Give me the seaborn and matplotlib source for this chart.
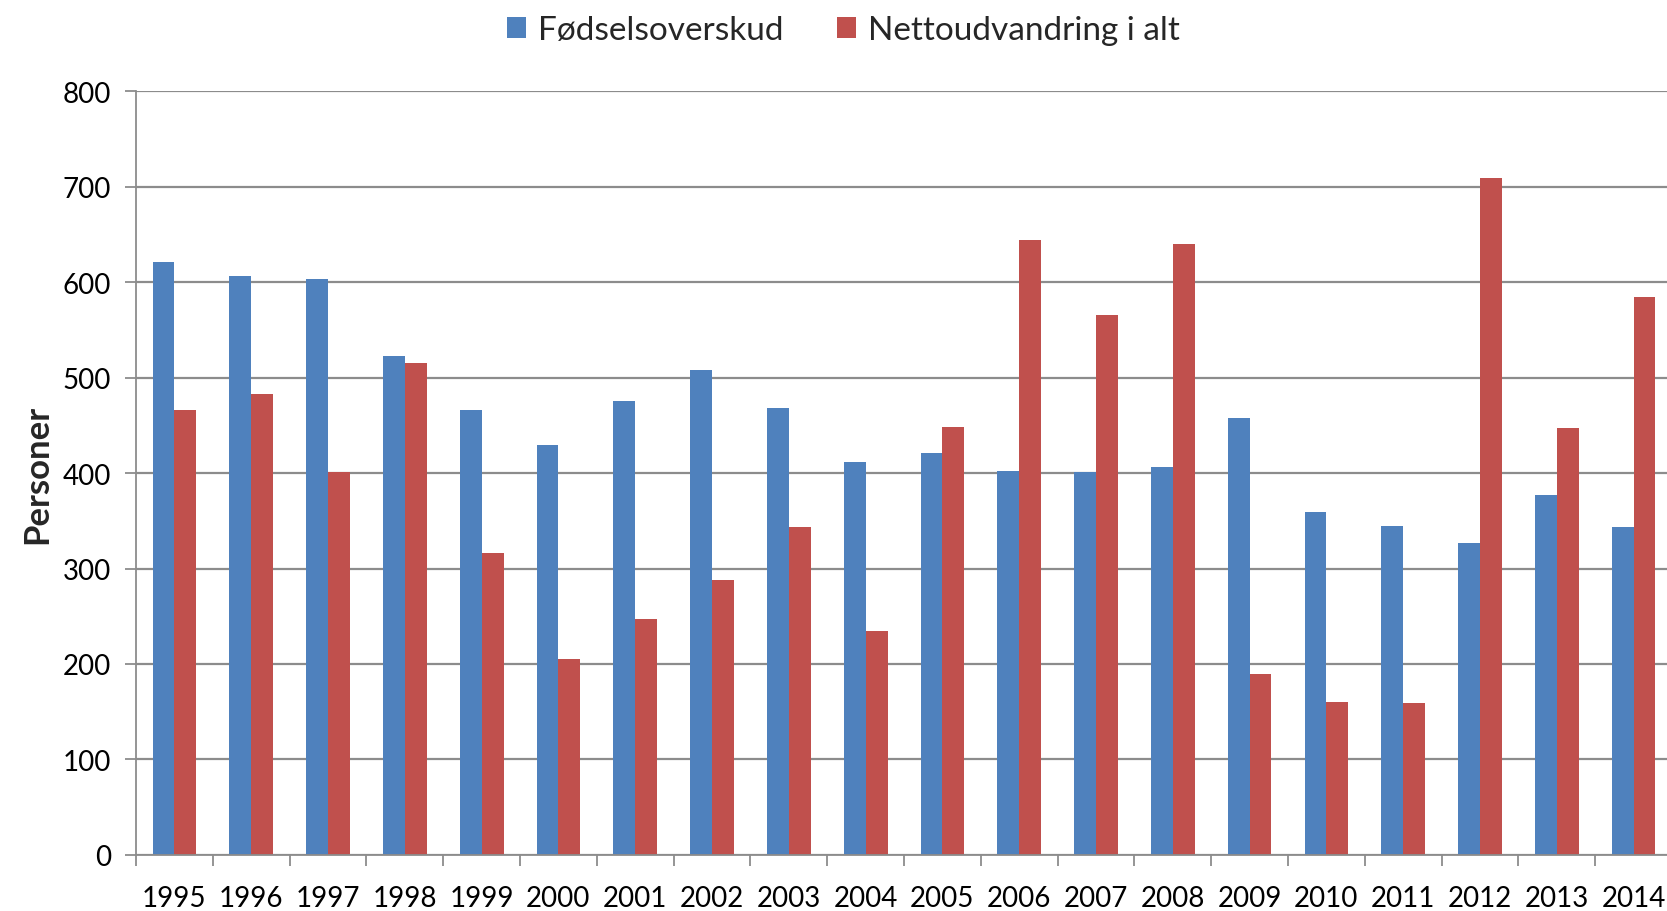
import matplotlib.pyplot as plt
import pandas as pd
import seaborn as sns

years = [str(y) for y in range(1995, 2015)]
fodselsoverskud = [621, 607, 603, 523, 466, 429, 476, 508, 468, 412,
                   421, 402, 401, 406, 458, 359, 345, 327, 377, 344]
nettoudvandring = [466, 483, 401, 515, 316, 205, 247, 288, 344, 235,
                   448, 644, 566, 640, 189, 160, 159, 709, 447, 585]
series_names = ["Fødselsoverskud", "Nettoudvandring i alt"]
colors = ["#4F81BD", "#C0504D"]
y_ticks = [0, 100, 200, 300, 400, 500, 600, 700, 800]


def main() -> None:
    df = pd.DataFrame({"year": years, series_names[0]: fodselsoverskud, series_names[1]: nettoudvandring})
    long = df.melt(id_vars="year", var_name="serie", value_name="personer")

    sns.set_theme(style="white")
    plt.rcParams["font.family"] = ["Lato", "DejaVu Sans"]

    fig = plt.figure(figsize=(16.67, 9.12), dpi=100)
    ax = fig.add_axes([0.0816, 0.0616, 0.9214, 0.837])
    sns.barplot(data=long, x="year", y="personer", hue="serie", hue_order=series_names,
                palette=colors, width=0.57, saturation=1, linewidth=0, ax=ax)

    ax.set_xlim(-0.5, len(years) - 0.5)
    ax.set_ylim(0, 800)
    ax.set_yticks(y_ticks)
    ax.yaxis.grid(True, color="#8c8c8c", linewidth=1.6)
    ax.set_axisbelow(True)
    for side in ["top", "right"]:
        ax.spines[side].set_visible(False)
    for side in ["left", "bottom"]:
        ax.spines[side].set_color("#8c8c8c")
        ax.spines[side].set_linewidth(1.3)

    ax.set_xticks(range(len(years)))
    ax.set_xticklabels(years)
    ax.set_xticks([i - 0.5 for i in range(len(years) + 1)], minor=True)
    ax.tick_params(axis="x", which="major", length=0, pad=22, labelsize=20, colors="black")
    ax.tick_params(axis="x", which="minor", length=8, width=1.3, color="#8c8c8c", direction="out", bottom=True)
    ax.tick_params(axis="y", length=8, width=1.3, color="#8c8c8c", direction="out", left=True, pad=10,
                   labelsize=20, labelcolor="black")

    ax.set_xlabel("")
    ax.set_ylabel("Personer", fontsize=25, fontweight="bold", labelpad=7)

    handles, labels = ax.get_legend_handles_labels()
    ax.get_legend().remove()
    fig.legend(handles, labels, loc="upper center", bbox_to_anchor=(0.506, 1.015), ncol=2, frameon=False,
               fontsize=24, handlelength=0.57, handleheight=0.57, handletextpad=0.35, columnspacing=1.6)

    fig.savefig("out.png", dpi=100)
    plt.close(fig)


if __name__ == "__main__":
    main()
